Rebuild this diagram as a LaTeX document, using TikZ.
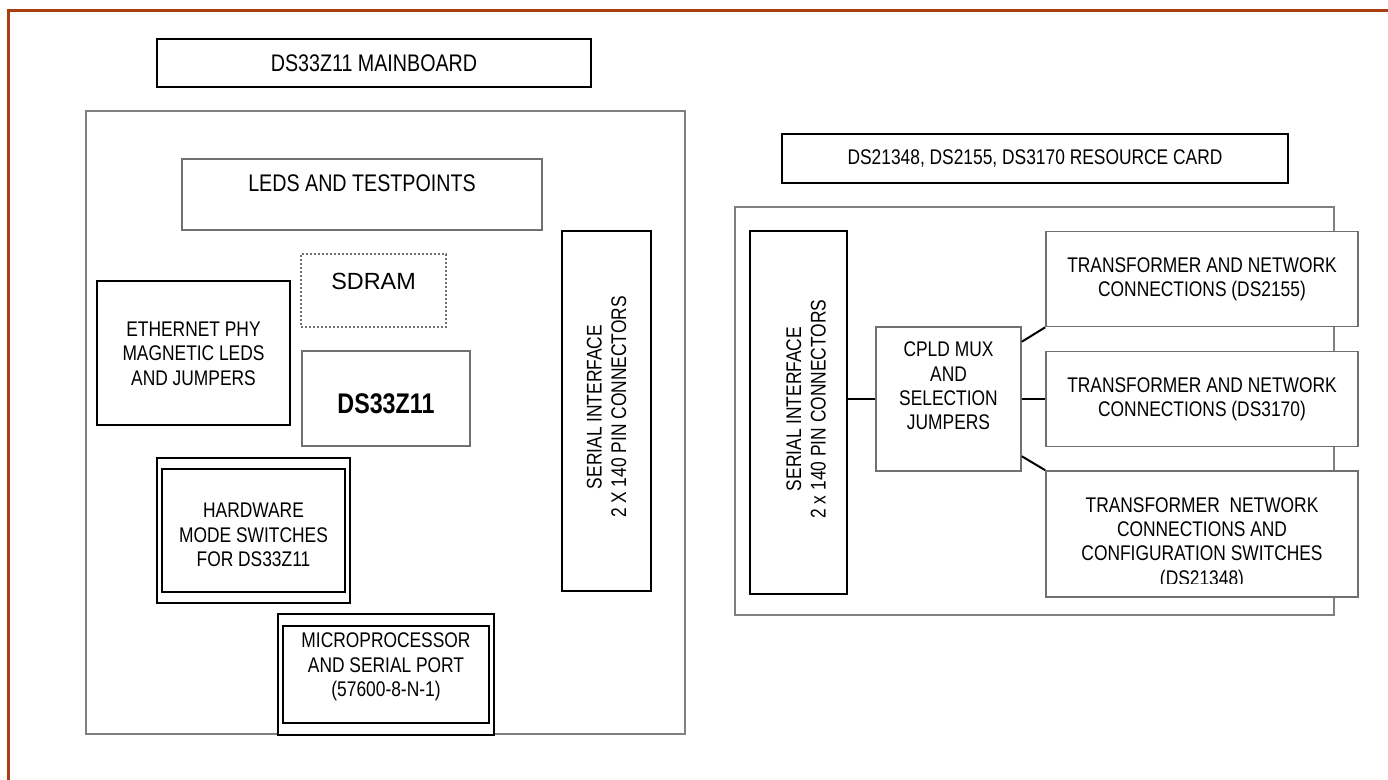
\documentclass[tikz,border=0pt]{standalone}
\usepackage{fontspec}
\setmainfont[FakeStretch=0.82]{Liberation Sans}
\newfontfamily\widefont{Liberation Sans}
\definecolor{framebrown}{RGB}{168,62,18}
\definecolor{boxgray}{RGB}{112,112,112}
\definecolor{boardgray}{RGB}{128,128,128}

\begin{document}
\begin{tikzpicture}[x=0.5pt, y=-0.5pt,
  blk/.style={rectangle, draw=black, fill=white, line width=1pt, inner sep=0pt},
  gry/.style={rectangle, draw=boxgray, fill=white, line width=0.8pt, inner sep=0pt},
  txt/.style={inner sep=0pt, align=center, font=\fontsize{10.6}{12.2}\selectfont},
  ttl/.style={inner sep=0pt, align=center, font=\fontsize{12}{13}\selectfont}]
\useasboundingbox (0,0) rectangle (1388,780);
% page frame
\draw[framebrown, line width=1.5pt] (8,780) -- (8,11) -- (1388,11);

% mainboard
\node[blk, minimum width=217pt, minimum height=24pt, ttl] (mbtitle) at (374,63) {DS33Z11 MAINBOARD};
\node[rectangle, draw=boardgray, line width=1pt, minimum width=299.5pt, minimum height=311.5pt] (mb) at (385.5,422.5) {};
\node[gry, minimum width=180pt, minimum height=35.5pt] (leds) at (362,194.5) {};
\node[ttl] (ledstxt) at (362,183.5) {LEDS AND TESTPOINTS};
\node[rectangle, draw=boxgray, line width=0.6pt, dash pattern=on 1pt off 1pt, minimum width=72.5pt, minimum height=36.5pt] (sdram) at (373.5,290.5) {};
\node[inner sep=0pt, font=\widefont\fontsize{11.7}{13}\selectfont] (sdramtxt) at (373.5,281) {SDRAM};
\node[gry, minimum width=84pt, minimum height=47.5pt] (chip) at (386,398.5) {};
\node[inner sep=0pt, font=\fontsize{14.2}{16}\selectfont\bfseries] (chiptxt) at (386,404) {DS33Z11};
\node[blk, minimum width=96.5pt, minimum height=72pt, txt] (phy) at (193.5,353.5) {ETHERNET PHY\\MAGNETIC LEDS\\AND JUMPERS};
\node[blk, line width=0.9pt, minimum width=96.5pt, minimum height=72.5pt] (hw) at (253.5,530.5) {};
\node[blk, line width=0.9pt, minimum width=91.5pt, minimum height=61.5pt] (hwin) at (253.5,530.5) {};
\node[txt] (hwtxt) at (253.5,535) {HARDWARE\\MODE SWITCHES\\FOR DS33Z11};
\node[blk, line width=0.9pt, minimum width=108pt, minimum height=60.5pt] (mcu) at (386,674.5) {};
\node[blk, line width=0.9pt, minimum width=103pt, minimum height=48.5pt] (mcuin) at (386,674.5) {};
\node[txt] (mcutxt) at (386,667) {MICROPROCESSOR\\AND SERIAL PORT\\(57600-8-N-1)};
\node[blk, line width=1.1pt, minimum width=44.5pt, minimum height=180pt] (mser) at (606.5,411) {};
\node[txt, rotate=90] (msertxt) at (606.5,407) {SERIAL INTERFACE\\2 X 140 PIN CONNECTORS};

% resource card
\node[blk, minimum width=253pt, minimum height=24.5pt, txt] (rctitle) at (1035,158.5) {DS21348, DS2155, DS3170 RESOURCE CARD};
\node[rectangle, draw=boardgray, line width=1pt, minimum width=299.5pt, minimum height=204pt] (rc) at (1034.5,411) {};
\node[blk, line width=1.1pt, minimum width=48.5pt, minimum height=181.5pt] (cser) at (798.5,412.5) {};
\node[txt, rotate=90] (csertxt) at (806,409) {SERIAL INTERFACE\\2 x 140 PIN CONNECTORS};
\node[gry, minimum width=72.5pt, minimum height=72pt] (cpld) at (948.5,399) {};
\node[txt] (cpldtxt) at (948.5,386) {CPLD MUX\\AND\\SELECTION\\JUMPERS};
\node[gry, minimum width=156pt, minimum height=47.5pt, txt] (t1) at (1202,279) {TRANSFORMER AND NETWORK\\CONNECTIONS (DS2155)};
\node[gry, minimum width=156pt, minimum height=47.5pt, txt] (t2) at (1202,399) {TRANSFORMER AND NETWORK\\CONNECTIONS (DS3170)};
\node[gry, minimum width=156pt, minimum height=63pt] (t3) at (1202,534) {};
\begin{scope}
\clip (1048,473) rectangle (1356,584);
\node[txt] (t3txt) at (1202,543.5) {TRANSFORMER\ \ NETWORK\\CONNECTIONS AND\\CONFIGURATION SWITCHES\\(DS21348)};
\end{scope}

% connections
\draw[line width=1pt] (cpld.west) -- (cpld.west -| cser.east);
\draw[line width=1pt] (cpld.east) -- (t2.west);
\draw[line width=1pt] (cpld.38) -- (t1.south west);
\draw[line width=1pt] (cpld.-38) -- (t3.north west);
\end{tikzpicture}
\end{document}
